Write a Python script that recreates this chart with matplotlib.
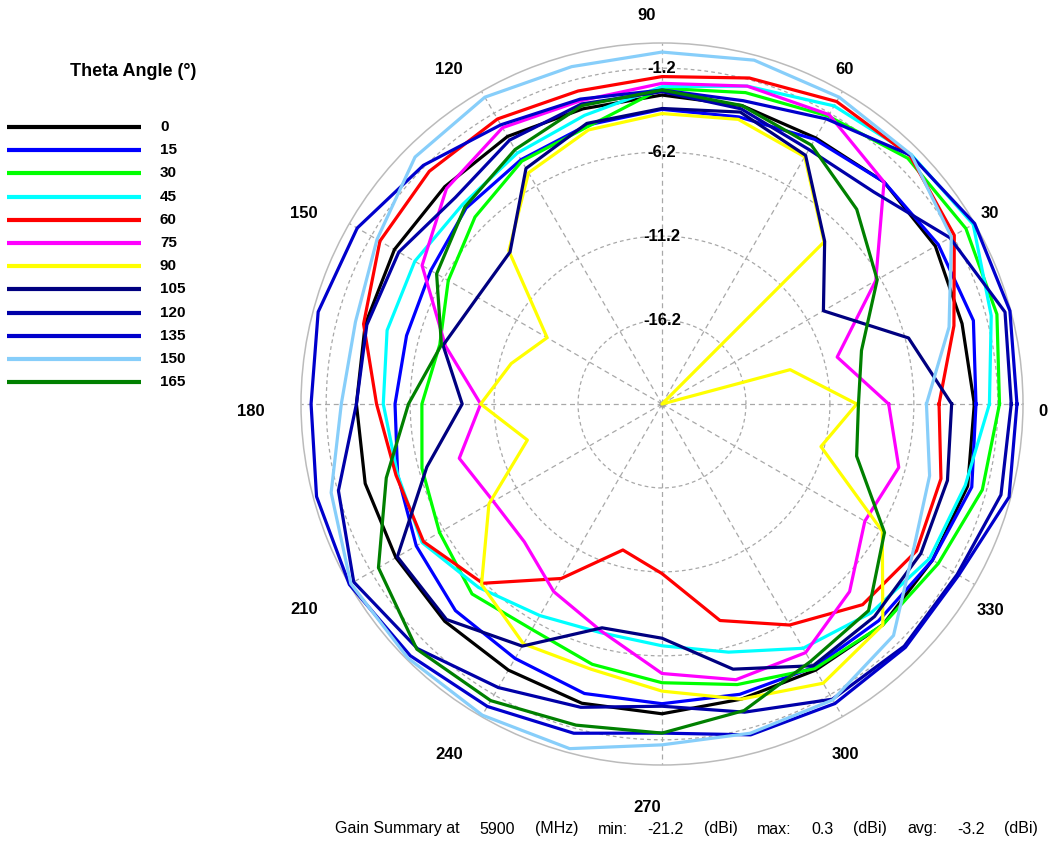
import numpy as np
import matplotlib
matplotlib.use("Agg")
import matplotlib.pyplot as plt

plt.rcParams["font.family"] = ["Liberation Sans", "DejaVu Sans"]

# ---------------------------------------------------------------------------
# Data: gain (dBi) vs phi angle, one series per theta angle
# ---------------------------------------------------------------------------
PHI_DEG = list(range(0, 360, 15))
THETA_LABELS = ["0", "15", "30", "45", "60", "75", "90", "105", "120", "135", "150", "165"]
COLORS = ["#000000", "#0000FF", "#00FF00", "#00FFFF", "#FF0000", "#FF00FF",
          "#FFFF00", "#000080", "#0000A8", "#0000CC", "#87CEFA", "#008000"]

gain_0 = [-2.6, -2.7, -2.4, -2.5, -2.9, -2.8, -2.8, -3.0, -2.8, -2.9, -2.8, -2.9,
          -3.0, -2.9, -2.9, -2.9, -2.9, -2.75, -2.75, -3.0, -2.9, -2.6, -2.6, -2.35]
gain_15 = [-2.5, -2.0, -2.2, -2.5, -3.0, -3.5, -3.65, -4.0, -4.4, -4.7, -5.3, -5.45,
           -5.3, -4.9, -4.3, -3.8, -3.7, -3.35, -3.35, -3.3, -3.1, -2.95, -2.6, -2.1]
gain_30 = [-1.1, -0.55, -0.3, -0.5, -1.4, -2.0, -2.4, -4.1, -4.5, -5.45, -6.5, -7.5,
           -6.9, -6.4, -5.9, -5.2, -5.7, -5.15, -4.6, -3.9, -3.0, -2.6, -2.2, -1.45]
gain_45 = [-1.7, -0.9, 0.2, -0.2, -0.7, -1.6, -2.3, -3.4, -3.95, -4.4, -4.2, -4.25,
           -4.6, -4.9, -4.7, -5.75, -6.65, -7.1, -6.8, -5.9, -4.4, -3.6, -2.8, -2.5]
gain_60 = [-4.7, -3.2, -1.1, -0.3, -0.4, -1.1, -1.7, -1.9, -1.6, -1.6, -1.8, -2.8,
           -4.2, -4.8, -4.8, -6.1, -9.2, -12.2, -11.1, -7.85, -6.0, -4.3, -3.7, -4.0]
gain_75 = [-7.7, -10.4, -6.5, -2.5, -1.3, -1.6, -2.1, -2.5, -2.2, -3.05, -4.7, -7.85,
           -10.4, -8.7, -9.6, -9.6, -8.3, -7.2, -5.15, -4.2, -4.1, -5.4, -7.25, -6.6]
gain_90 = [-9.6, -13.3, -21.2, -7.55, -4.2, -3.65, -3.9, -4.3, -5.3, -8.3, -13.3, -11.9,
           -10.4, -12.9, -9.3, -6.0, -4.7, -4.85, -4.1, -3.0, -2.0, -2.6, -6.05, -11.4]
gain_105 = [-3.95, -6.0, -10.1, -7.5, -4.1, -3.2, -3.6, -3.9, -5.0, -8.4, -8.5, -7.7,
            -9.3, -6.7, -3.0, -3.05, -4.55, -7.4, -7.25, -4.85, -3.2, -3.3, -3.4, -3.6]
gain_120 = [-0.4, -0.05, -1.4, -3.35, -3.7, -3.0, -2.6, -2.7, -3.05, -3.8, -3.1, -3.0,
            -3.0, -1.25, 0.0, -0.6, -1.7, -2.5, -3.2, -2.2, -0.9, -0.8, -0.9, -0.3]
gain_135 = [-0.06, 0.25, 0.3, -0.25, -1.6, -2.5, -2.5, -2.4, -2.0, -1.1, -0.24, 0.0,
            -0.3, 0.1, 0.3, 0.0, -0.4, -0.9, -1.6, -0.8, -0.6, -0.7, -0.8, 0.2]
gain_150 = [-5.45, -3.5, -1.3, -0.2, -0.1, 0.0, -0.24, -0.4, -0.1, -0.4, -1.6, -2.3,
            -2.1, -0.8, 0.2, 0.2, 0.2, 0.05, -0.9, -0.9, -0.85, -1.7, -3.9, -4.7]
gain_165 = [-9.5, -8.9, -6.4, -4.8, -3.4, -2.8, -2.5, -2.8, -3.7, -4.6, -5.7, -7.6,
            -6.1, -4.2, -1.7, -0.55, -0.8, -1.4, -1.6, -2.3, -3.5, -3.8, -5.9, -9.2]

ALL_GAINS = [gain_0, gain_15, gain_30, gain_45, gain_60, gain_75, gain_90,
             gain_105, gain_120, gain_135, gain_150, gain_165]

R_MIN, R_MAX = -21.2, 0.3
RING_TICKS = [-16.2, -11.2, -6.2, -1.2]
ANGLE_TICKS = list(range(0, 360, 30))
FREQ_MHZ, GAIN_MIN, GAIN_MAX, GAIN_AVG = 5900, -21.2, 0.3, -3.2

# ---------------------------------------------------------------------------
# Figure
# ---------------------------------------------------------------------------
W, H = 1048, 844
fig = plt.figure(figsize=(W / 100, H / 100), dpi=100)
cx, cy, rad = 662, 404, 361
ax = fig.add_axes([(cx - rad) / W, (H - cy - rad) / H, 2 * rad / W, 2 * rad / H],
                  projection="polar")

theta = np.deg2rad(PHI_DEG + [360])
for vals, color in zip(ALL_GAINS, COLORS):
    ax.plot(theta, vals + vals[:1], color=color, linewidth=2.3, clip_on=False, zorder=3)

ax.set_rlim(R_MIN, R_MAX)
ax.set_rticks(RING_TICKS)
ax.set_yticklabels([])
ax.set_xticks(np.deg2rad(ANGLE_TICKS))
ax.set_xticklabels([])
ax.xaxis.grid(True, color="#A8A8A8", linestyle=(0, (4, 3)), linewidth=0.9)
ax.yaxis.grid(True, color="#A8A8A8", linestyle=(0, (3, 2.5)), linewidth=0.9)
ax.spines["polar"].set_color("#BBBBBB")
ax.spines["polar"].set_linewidth(1.1)
ax.plot(0, R_MIN, "o", color="#A0A0A0", markersize=3.5, zorder=2)

for v in RING_TICKS:
    ax.text(np.pi / 2, v, f"{v:g}", ha="center", va="center", fontsize=12,
            fontweight="bold", zorder=5)

for deg in ANGLE_TICKS:
    a = np.deg2rad(deg)
    ax.text(0.5 + (396 * np.cos(a) - 15) / (2 * rad),
            0.5 + (396 * np.sin(a) - 8) / (2 * rad),
            str(deg), transform=ax.transAxes, ha="center", va="center",
            fontsize=12, fontweight="bold")

# Legend drawn in a pixel-space overlay
lax = fig.add_axes([0, 0, 1, 1], zorder=-1)
lax.set_xlim(0, W)
lax.set_ylim(H, 0)
lax.axis("off")
lax.text(133, 71, "Theta Angle (°)", ha="center", va="center", fontsize=13,
         fontweight="bold")
for i, (lab, color) in enumerate(zip(THETA_LABELS, COLORS)):
    y = 127 + i * 23.2
    lax.plot([7, 141], [y, y], color=color, linewidth=3, solid_capstyle="butt")
    lax.text(160, y, lab, ha="left", va="center", fontsize=11, fontweight="bold")

# Summary line: tokens spread evenly between x0 and x1 (pixels)
summary_tokens = ["Gain Summary at", str(FREQ_MHZ), "(MHz)", "min:", str(GAIN_MIN),
                  "(dBi)", "max:", str(GAIN_MAX), "(dBi)", "avg:", str(GAIN_AVG), "(dBi)"]
x0, x1 = 335, 1038
texts = [lax.text(0, 829, tok, ha="left", va="center", fontsize=11.5)
         for tok in summary_tokens]
renderer = fig.canvas.get_renderer()
widths = [t.get_window_extent(renderer).width for t in texts]
gap = (x1 - x0 - sum(widths)) / (len(texts) - 1)
x = x0
for t, w in zip(texts, widths):
    t.set_x(x)
    x += w + gap

fig.savefig("out.png", dpi=100)
